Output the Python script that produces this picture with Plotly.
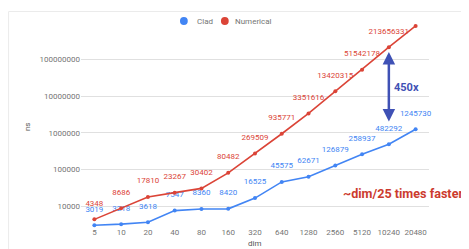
import plotly.graph_objects as go

dims = ["5", "10", "20", "40", "80", "160", "320", "640", "1280", "2560", "5120", "10240", "20480"]
clad = [3019, 3218, 3618, 7547, 8360, 8420, 16525, 45575, 62671, 126879, 258937, 482292, 1245730]
numerical = [4348, 8686, 17810, 23267, 30402, 80482, 269509, 935771, 3351616, 13420315, 51542178, 213656331, 810000000]
numerical_labels = [str(v) for v in numerical[:-1]] + [""]
clad_labels = [str(v) for v in clad]
ytick_vals = [1e4, 1e5, 1e6, 1e7, 1e8]
ytick_text = ["10000", "100000", "1000000", "10000000", "100000000"]

BLUE = "#4285F4"
RED = "#DB4437"
FONT = "Roboto"

OFF = 8  # page body margin
W, H = 469 - OFF, 249 - OFF
# plot area in window pixels
L, R, T, B = 81 - OFF, 429.4 - OFF, 20 - OFF, 226 - OFF
Y8 = 59.3 - OFF  # pixel of 1e8 gridline
DEC = 36.7       # pixels per decade


def xp(px):
    return (px - OFF - L) / (R - L)


def yp(py):
    return (B - (py - OFF)) / (B - T)


fig = go.Figure()
for name, vals, labels, col in [("Clad", clad, clad_labels, BLUE), ("Numerical", numerical, numerical_labels, RED)]:
    fig.add_trace(go.Scatter(x=dims, y=vals, mode="lines+markers", name=name,
                             line=dict(color=col, width=1.6), marker=dict(size=4, color=col),
                             showlegend=False, cliponaxis=False))
    fig.add_trace(go.Scatter(x=dims, y=vals, mode="markers+text", text=labels,
                             textposition="top center", textfont=dict(color=col, size=8, family=FONT),
                             marker=dict(size=17, opacity=0), showlegend=False, cliponaxis=False,
                             hoverinfo="skip"))

fig.update_layout(
    width=W, height=H,
    margin=dict(l=L, r=W - R, t=T, b=H - B, autoexpand=False),
    paper_bgcolor="white", plot_bgcolor="white",
    font=dict(family=FONT, size=8, color="#757575"),
    showlegend=False,
    xaxis=dict(type="category", showgrid=False, zeroline=False, showline=False, ticks="",
               tickfont=dict(size=8, color="#757575"), range=[-0.5, 12.5], automargin=False),
    yaxis=dict(type="log", range=[8 - (B - Y8) / DEC, 8 + (Y8 - T) / DEC],
               tickvals=ytick_vals, ticktext=ytick_text, showgrid=True, gridcolor="#e0e0e0",
               gridwidth=1, zeroline=False, showline=False, ticks="", automargin=False,
               tickfont=dict(size=8, color="#757575")),
)

# legend drawn by hand (Google-style)
for cx, label, tx, col in [(184, "Clad", 195, BLUE), (225, "Numerical", 233, RED)]:
    r = 3.9 / (R - L)
    ry = 3.9 / (B - T)
    fig.add_shape(type="circle", xref="paper", yref="paper", x0=xp(cx) - r, x1=xp(cx) + r,
                  y0=yp(21) - ry, y1=yp(21) + ry, fillcolor=col, line=dict(width=0))
    fig.add_annotation(xref="paper", yref="paper", x=xp(tx), y=yp(21), text=label, showarrow=False,
                       font=dict(size=8, color="#757575"), xanchor="left", yanchor="middle")

# axis titles
fig.add_annotation(xref="paper", yref="paper", x=xp(255), y=yp(243), text="dim", showarrow=False,
                   font=dict(size=8, color="#555555"), xanchor="center", yanchor="middle")
fig.add_annotation(xref="paper", yref="paper", x=xp(27), y=yp(127), text="ns", showarrow=False,
                   textangle=-90, font=dict(size=8, color="#555555"), xanchor="center", yanchor="middle")

# double arrow
y_top = 8 + (Y8 - (52 - OFF)) / DEC
y_bot = 8 - ((123 - OFF) - Y8) / DEC
fig.add_annotation(xref="x", yref="y", x=11, y=y_top, ax=11, ay=y_bot, axref="x", ayref="y",
                   text="", showarrow=True, arrowhead=2, startarrowhead=2, arrowside="end+start",
                   arrowsize=1, startarrowsize=1, arrowwidth=2.5, arrowcolor="#3F51B5")
fig.add_annotation(xref="paper", yref="paper", x=xp(407), y=yp(88), text="<b>450x</b>", showarrow=False,
                   font=dict(size=11, color="#3F51B5", family=FONT), xanchor="center", yanchor="middle")
fig.add_annotation(xref="paper", yref="paper", x=xp(465), y=yp(193), text="<b>~dim/25 times faster</b>",
                   showarrow=False, font=dict(size=12.6, color="#CC3B2E", family=FONT),
                   xanchor="right", yanchor="middle")

# frame
fig.add_shape(type="rect", xref="paper", yref="paper", x0=xp(8.5), x1=xp(466), y0=yp(262), y1=yp(11.5),
              line=dict(color="#ebebeb", width=1), layer="below")

fig.write_html("out.html")
